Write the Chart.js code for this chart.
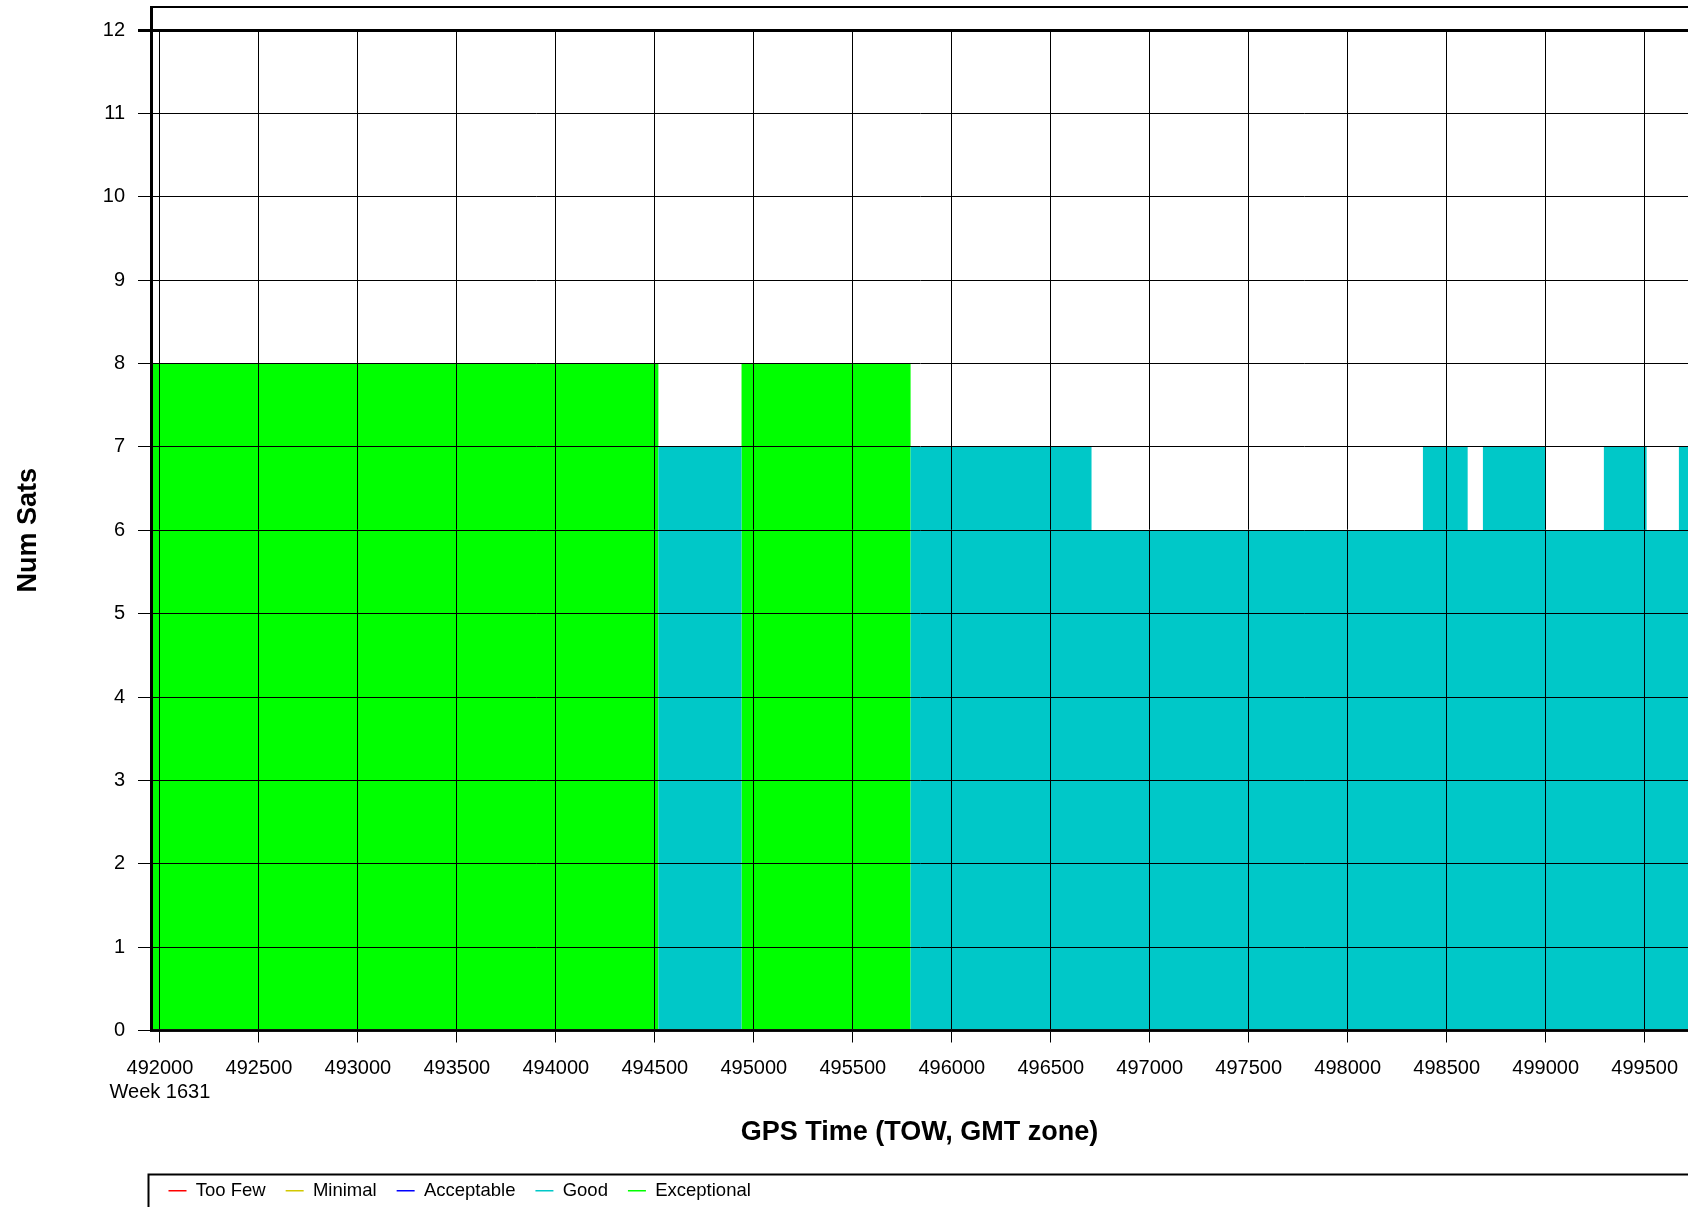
<!DOCTYPE html>
<html>
<head>
<meta charset="utf-8">
<title>Num Sats</title>
<script src="https://cdn.jsdelivr.net/npm/chart.js@4.4.0/dist/chart.umd.min.js"></script>
<style>
    html, body { margin: 0; padding: 0; background: #fff; overflow: hidden; }
    #chart { display: block; }
</style>
</head>
<body>
<canvas id="chart" width="1688" height="1210"></canvas>
<script>
// x range of the plot (GPS time of week, seconds)
const xMin = 491955;
const xMax = 499719;
const xTickValues = [492000, 492500, 493000, 493500, 494000, 494500, 495000, 495500,
                     496000, 496500, 497000, 497500, 498000, 498500, 499000, 499500];
const weekLabel = 'Week 1631';

// quality classes, legend order
const classNames = ['Too Few', 'Minimal', 'Acceptable', 'Good', 'Exceptional'];
const classColors = ['#ff0000', '#d2c800', '#0000ff', '#00c8c8', '#00ff00'];

// each value holds until the next time (stepped)
const exceptionalTimes = [491955, 494518, 494938, 495792, 499719];
const exceptionalSats  = [8, 0, 8, 0, 0];
const goodTimes = [491955, 494518, 494938, 495792, 496706, 498380, 498606, 498683, 499000, 499294, 499510, 499673, 499719];
const goodSats  = [0, 7, 0, 7, 6, 7, 6, 7, 6, 7, 6, 7, 7];

const toPoints = (times, sats) => times.map((t, i) => ({ x: t, y: sats[i] }));

const seriesData = {
    'Good': toPoints(goodTimes, goodSats),
    'Exceptional': toPoints(exceptionalTimes, exceptionalSats),
};

const fontFamily = '"Liberation Sans", Arial, sans-serif';

// frame above the 12 line and the box round the legend
const framePlugin = {
    id: 'frame',
    afterLayout(chart) {
        chart.legend.left -= 2.5;
    },
    afterDraw(chart) {
        const { ctx, chartArea: a, legend } = chart;
        ctx.save();
        ctx.strokeStyle = '#000';
        ctx.lineWidth = 2;
        ctx.beginPath();
        ctx.moveTo(a.left, 7);
        ctx.lineTo(a.right, 7);
        ctx.stroke();
        ctx.lineWidth = 3;
        ctx.beginPath();
        ctx.moveTo(a.left + 0.5, 6);
        ctx.lineTo(a.left + 0.5, a.top);
        ctx.stroke();
        ctx.lineWidth = 2;
        ctx.strokeRect(a.left - 2.5, legend.top + 13, 2000, 200);
        ctx.restore();
    }
};

new Chart(document.getElementById('chart'), {
    type: 'line',
    data: {
        datasets: classNames.map((name, i) => ({
            label: name,
            data: seriesData[name] || [],
            backgroundColor: classColors[i],
            borderColor: 'rgba(0,0,0,0)',
            borderWidth: 0,
            pointRadius: 0,
            stepped: true,
            fill: 'origin',
        }))
    },
    options: {
        responsive: false,
        animation: false,
        layout: { padding: { top: 30, left: 0, right: 0, bottom: 0 } },
        plugins: {
            tooltip: { enabled: false },
            legend: {
                position: 'bottom',
                align: 'start',
                fullSize: false,
                labels: {
                    boxWidth: 18,
                    boxHeight: 1.5,
                    padding: 20,
                    color: '#000',
                    font: { family: fontFamily, size: 18.5 },
                }
            }
        },
        scales: {
            x: {
                type: 'linear',
                min: xMin,
                max: xMax,
                afterBuildTicks: (scale) => { scale.ticks = xTickValues.map(v => ({ value: v })); },
                afterFit: (scale) => { scale.height = 131; scale.paddingLeft = 0; scale.paddingRight = 0; },
                grid: { color: '#000', lineWidth: 1, tickLength: 12, z: 1 },
                border: { color: '#111', width: 3, z: 1 },
                ticks: {
                    color: '#000',
                    padding: 14,
                    maxRotation: 0,
                    autoSkip: false,
                    font: { family: fontFamily, size: 20, lineHeight: 1.2 },
                    callback: (value) => value === xTickValues[0] ? [String(value), weekLabel] : String(value),
                },
                title: {
                    display: true,
                    text: 'GPS Time (TOW, GMT zone)',
                    color: '#000',
                    font: { family: fontFamily, size: 27, weight: 'bold' },
                    padding: { top: 0, bottom: 13 },
                }
            },
            y: {
                min: 0,
                max: 12,
                afterFit: (scale) => { scale.width = 151; scale.paddingTop = 0; scale.paddingBottom = 0; },
                grid: {
                    color: '#000',
                    lineWidth: (ctx) => ctx.tick && ctx.tick.value === 12 ? 3 : 1,
                    tickLength: 13,
                    z: 1,
                },
                border: { color: '#000', width: 3, z: 1 },
                ticks: {
                    stepSize: 1,
                    color: '#000',
                    padding: 13,
                    font: { family: fontFamily, size: 20 },
                },
                title: {
                    display: true,
                    text: 'Num Sats',
                    color: '#000',
                    font: { family: fontFamily, size: 27, weight: 'bold' },
                    padding: { top: 12, bottom: 0 },
                }
            }
        }
    },
    plugins: [framePlugin]
});
</script>
</body>
</html>
